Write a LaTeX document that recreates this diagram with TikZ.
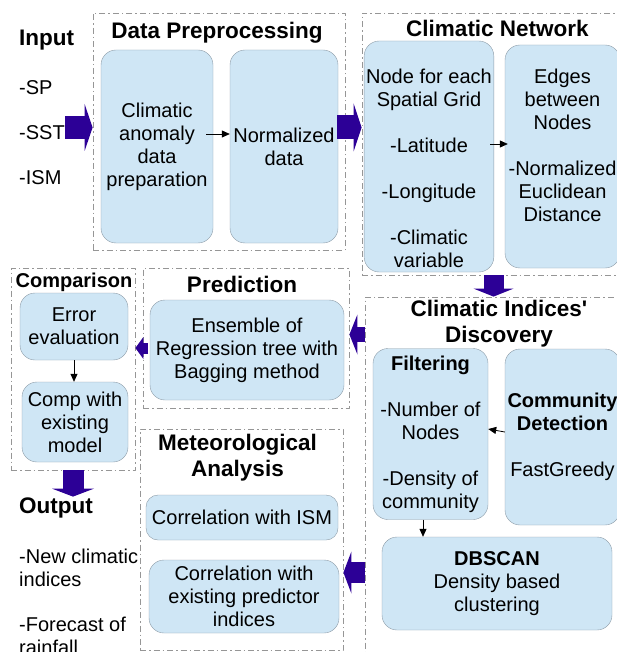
\documentclass[tikz,border=0pt]{standalone}
\usepackage{fontspec}
\setmainfont{Liberation Sans}
\usetikzlibrary{arrows.meta}
\definecolor{boxblue}{RGB}{207,230,245}
\definecolor{boxline}{RGB}{140,155,166}
\definecolor{framegray}{RGB}{150,150,150}
\definecolor{arrowblue}{RGB}{44,0,150}
\tikzset{
	frame/.style={draw=framegray, line width=0.8pt, dash pattern=on 6pt off 3pt on 1.5pt off 3pt},
	stage/.style={draw=boxline, fill=boxblue, rounded corners=15pt, align=center, inner sep=2pt, font=\fontsize{20}{23}\selectfont},
	head/.style={font=\bfseries\fontsize{22.5}{26}\selectfont, align=center, inner sep=1pt},
	item/.style={font=\fontsize{20}{23}\selectfont, align=left, anchor=west, inner sep=0pt},
	flow/.style={-{Triangle[length=8pt,width=7pt]}, line width=0.8pt},
	bigarrow/.style 2 args={draw=arrowblue, line width=#1, -{Triangle[length=8pt,width=#2,line width=0pt]}}
}
\begin{document}
\begin{tikzpicture}[x=1pt, y=-1pt, line join=round]
	\useasboundingbox (0,0) rectangle (617,652);
	\clip (0,0) rectangle (617,652);
	% frames
	\node[frame, minimum width=252, minimum height=237] (fprep) at (219,131.5) {};
	\node[frame, minimum width=263, minimum height=262] (fnet) at (493.5,144) {};
	\node[frame, minimum width=124, minimum height=202] (fcomp) at (73,369) {};
	\node[frame, minimum width=206, minimum height=140] (fpred) at (246,338) {};
	\node[frame, minimum width=260, minimum height=363] (fdisc) at (495,478.5) {};
	\node[frame, minimum width=203, minimum height=221] (fmet) at (241.5,539.5) {};
	\node[head] (tprep) at (217,33) {Data Preprocessing};
	\node[head] (tnet) at (497.5,28) {Climatic Network};
	\node[head, font=\bfseries\fontsize{20}{23}\selectfont] (tcomp) at (74,282) {Comparison};
	\node[head] (tpred) at (242,284) {Prediction};
	\node[head] (tdisc) at (499,324) {Climatic Indices\textquotesingle\\Discovery};
	\node[head] (tmet) at (237.5,457.5) {Meteorological\\Analysis};
	% input and output
	\node[head, anchor=west] (input) at (18,40) {Input};
	\node[item] (sp) at (19,88) {-SP};
	\node[item] (sst) at (19,133) {-SST};
	\node[item] (ism) at (19,178) {-ISM};
	\node[head, anchor=west] (output) at (18,508) {Output};
	\node[item] (newidx) at (19,567.5) {-New climatic\\indices};
	\node[item] (forecast) at (19,636) {-Forecast of\\rainfall};
	% stages
	\node[stage, minimum width=112, minimum height=193] (prep) at (157,146.5) {Climatic\\anomaly\\data\\preparation};
	\node[stage, minimum width=108, minimum height=193] (norm) at (284,146.5) {Normalized\\data};
	\node[stage, minimum width=128, minimum height=231] (grid) at (429,156.5) {\strut\\Node for each\\Spatial Grid\\[23pt]-Latitude\\[23pt]-Longitude\\[23pt]-Climatic\\variable};
	\node[stage, minimum width=115, minimum height=223] (edges) at (562.5,156.5) {Edges\\between\\Nodes\\[23pt]-Normalized\\Euclidean\\Distance\\\mbox{}};
	\node[stage, minimum width=108, minimum height=67] (err) at (74,326.5) {Error\\evaluation};
	\node[stage, minimum width=106, minimum height=80] (comp) at (75,422) {Comp with\\existing\\model};
	\node[stage, minimum width=194, minimum height=100] (ens) at (247,350) {Ensemble of\\Regression tree with\\Bagging method};
	\node[stage, minimum width=115, minimum height=171] (filt) at (430.5,434) {\textbf{Filtering}\\[23pt]-Number of\\Nodes\\[23pt]-Density of\\community};
	\node[stage, minimum width=115, minimum height=176] (comm) at (562.5,437) {\textbf{Community}\\\textbf{Detection}\\[23pt]FastGreedy};
	\node[stage, minimum width=230, minimum height=93] (dbscan) at (497,583.5) {\textbf{DBSCAN}\\Density based\\clustering};
	\node[stage, rounded corners=12pt, minimum width=192, minimum height=45] (corrism) at (242,517.5) {Correlation with ISM};
	\node[stage, minimum width=190, minimum height=73] (corrpred) at (244,596.5) {Correlation with\\existing predictor\\indices};
	% arrows
	\draw[flow] ([xshift=-7pt,yshift=12.5pt]prep.east) -- ([yshift=12.5pt]norm.west);
	\draw[flow] ([xshift=-4pt,yshift=12.5pt]grid.east) -- ([xshift=3pt,yshift=12.5pt]edges.west);
	\draw[flow] (err.south) -- (err.south |- comp.north);
	\draw[flow] ([yshift=5pt]comm.west) -- ([yshift=5pt]filt.east);
	\draw[flow] ([xshift=-7.5pt]filt.south) -- ([xshift=-7.5pt]filt.south |- dbscan.north);
	\coordinate (inarr) at (65,127.5);
	\coordinate (preparr) at (337,127.5);
	\coordinate (discarr) at (365,334.5);
	\coordinate (predarr) at (148,348);
	\coordinate (dbarr) at (365,572.5);
	\draw[bigarrow={23pt}{47pt}] (inarr) -- (inarr -| fprep.west);
	\draw[bigarrow={24pt}{48pt}] (preparr) -- (preparr -| fnet.west);
	\draw[bigarrow={20pt}{40pt}] (fnet.south) -- (fnet.south |- fdisc.north);
	\draw[bigarrow={15pt}{40pt}] (discarr) -- (discarr -| fpred.east);
	\draw[bigarrow={11pt}{22pt}] (predarr) -- (predarr -| fcomp.east);
	\draw[bigarrow={21pt}{42pt}] (fcomp.south) -- (fcomp.south |- output.north);
	\draw[bigarrow={21pt}{42pt}] (dbarr) -- (dbarr -| fmet.east);
\end{tikzpicture}
\end{document}
